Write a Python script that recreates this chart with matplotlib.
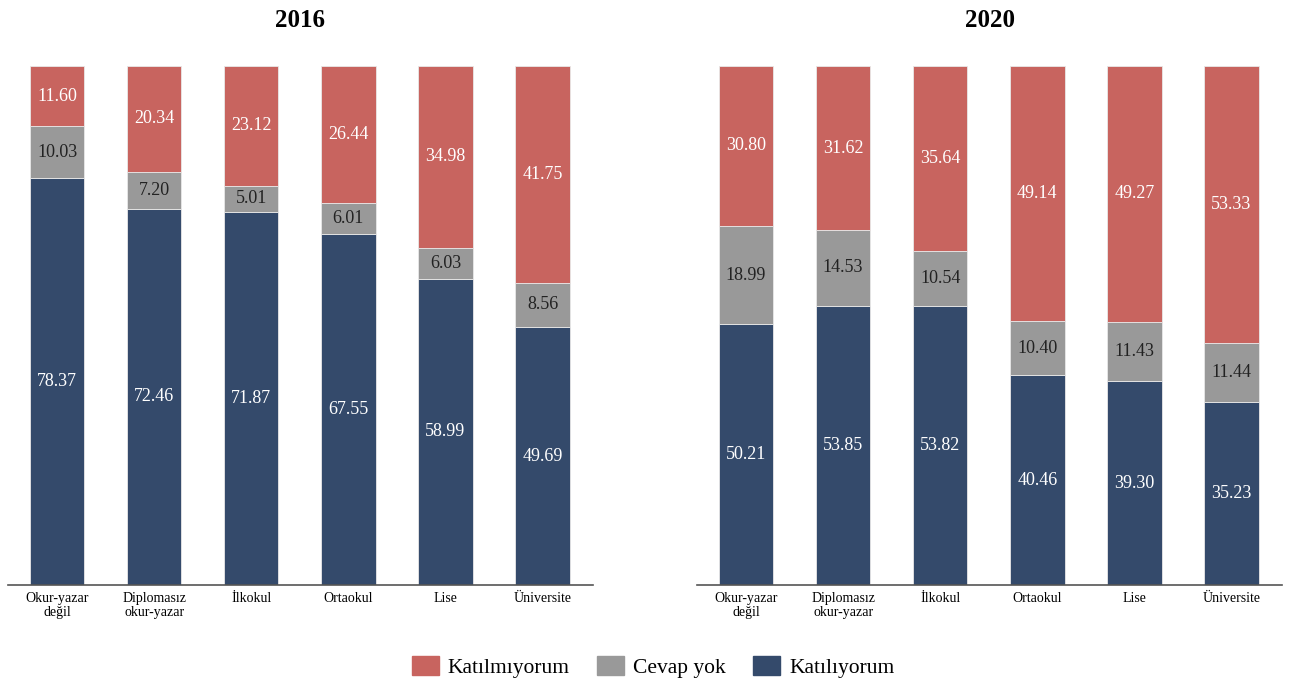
import numpy as np
from matplotlib import pyplot as plt
from matplotlib.patches import Patch

plt.rcParams['font.family'] = ['Liberation Serif', 'DejaVu Serif']

categories = ['Okur-yazar\ndeğil', 'Diplomasız\nokur-yazar', 'İlkokul', 'Ortaokul', 'Lise', 'Üniversite']

katiliyorum_2016 = [78.37, 72.46, 71.87, 67.55, 58.99, 49.69]
cevap_yok_2016 = [10.03, 7.20, 5.01, 6.01, 6.03, 8.56]
katilmiyorum_2016 = [11.60, 20.34, 23.12, 26.44, 34.98, 41.75]

katiliyorum_2020 = [50.21, 53.85, 53.82, 40.46, 39.30, 35.23]
cevap_yok_2020 = [18.99, 14.53, 10.54, 10.40, 11.43, 11.44]
katilmiyorum_2020 = [30.80, 31.62, 35.64, 49.14, 49.27, 53.33]

series_names = ['Katılmıyorum', 'Cevap yok', 'Katılıyorum']
red = '#C8645F'
gray = '#999999'
navy = '#344A6B'


def draw_panel(ax, title, agree, noans, disagree):
    x = np.arange(len(categories))
    w = 0.56
    agree = np.array(agree)
    noans = np.array(noans)
    disagree = np.array(disagree)
    ax.bar(x, agree, w, color=navy, edgecolor='#e8e8e8', linewidth=0.6)
    ax.bar(x, noans, w, bottom=agree, color=gray, edgecolor='#e8e8e8', linewidth=0.6)
    ax.bar(x, disagree, w, bottom=agree + noans, color=red, edgecolor='#e8e8e8', linewidth=0.6)
    for i in range(len(x)):
        ax.text(x[i], agree[i] / 2, f"{agree[i]:.2f}", ha='center', va='center', color='white', fontsize=13)
        ax.text(x[i], agree[i] + noans[i] / 2, f"{noans[i]:.2f}", ha='center', va='center', color='#222222', fontsize=13)
        ax.text(x[i], agree[i] + noans[i] + disagree[i] / 2, f"{disagree[i]:.2f}", ha='center', va='center', color='white', fontsize=13)
    ax.set_xlim(-0.505, 5.52)
    ax.set_ylim(0, 100)
    ax.set_xticks(x)
    ax.set_xticklabels(categories, fontsize=10, linespacing=1.1)
    ax.tick_params(axis='x', length=0, pad=5)
    ax.set_yticks([])
    for s in ['top', 'right', 'left']:
        ax.spines[s].set_visible(False)
    ax.spines['bottom'].set_color('#555555')
    ax.spines['bottom'].set_linewidth(1.2)
    ax.set_title(title, fontsize=18, fontweight='bold', pad=28)


fig = plt.figure(figsize=(12.9, 6.86), dpi=100)
ax1 = fig.add_axes([8 / 1290, 1 - 585 / 686, 585 / 1290, (585 - 66) / 686])
ax2 = fig.add_axes([697 / 1290, 1 - 585 / 686, 585 / 1290, (585 - 66) / 686])
draw_panel(ax1, '2016', katiliyorum_2016, cevap_yok_2016, katilmiyorum_2016)
draw_panel(ax2, '2020', katiliyorum_2020, cevap_yok_2020, katilmiyorum_2020)

handles = [Patch(color=red), Patch(color=gray), Patch(color=navy)]
fig.legend(handles, series_names, loc='center', bbox_to_anchor=(653 / 1290, 1 - 667 / 686), ncol=3,
           frameon=False, fontsize=15.5, handlelength=1.25, handleheight=1.0, columnspacing=1.3, handletextpad=0.4)

fig.savefig('out.png', dpi=100)
